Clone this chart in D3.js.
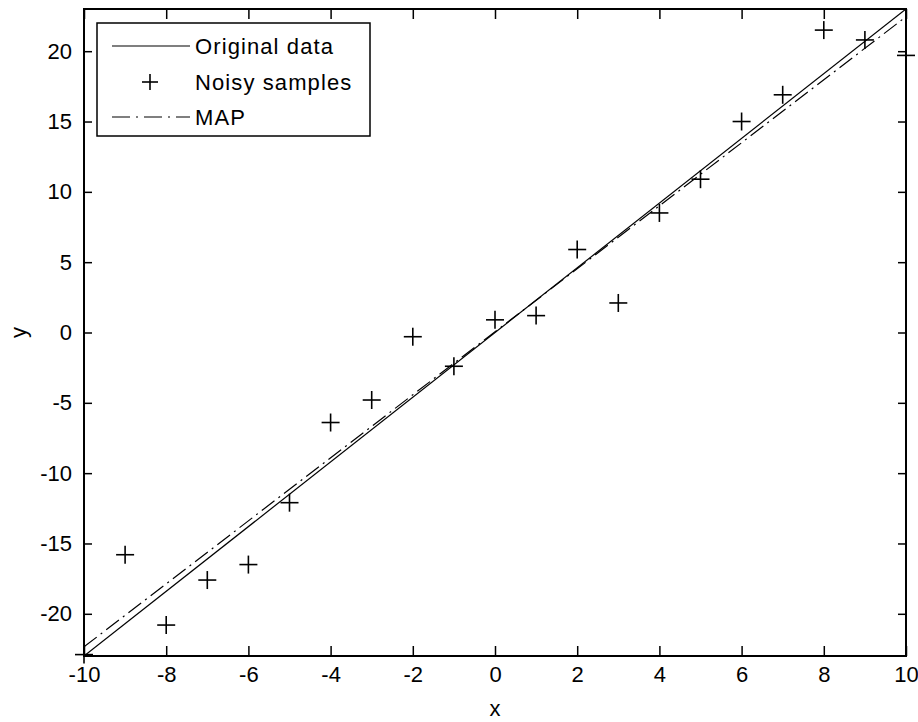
<!DOCTYPE html>
<html>
<head>
<meta charset="utf-8">
<script src="https://cdn.jsdelivr.net/npm/d3@7/dist/d3.min.js"></script>
<style>
  body { margin: 0; background: #fff; }
  svg text { font-family: "Liberation Sans", Arial, sans-serif; fill: #000; }
</style>
</head>
<body>
<div id="chart"></div>
<script>
// dati
const sampleX = [-10, -9, -8, -7, -6, -5, -4, -3, -2, -1, 0, 1, 2, 3, 4, 5, 6, 7, 8, 9, 10];
const sampleY = [-22.9, -15.8, -20.8, -17.6, -16.5, -12.1, -6.4, -4.8, -0.3, -2.4, 0.9, 1.2, 5.9, 2.1, 8.5, 10.9, 15.0, 16.9, 21.5, 20.8, 19.7];
const lineX = [-10, 10];
const originalY = [-23, 23];
const mapY = [-22.35, 22.45];
const xTicks = [-10, -8, -6, -4, -2, 0, 2, 4, 6, 8, 10];
const yTicks = [-20, -15, -10, -5, 0, 5, 10, 15, 20];
const legendLabels = ['Original data', 'Noisy samples', 'MAP'];

const width = 918, height = 722;
const margin = { top: 9, right: 12, bottom: 66, left: 84 };
const innerWidth = width - margin.left - margin.right;
const innerHeight = height - margin.top - margin.bottom;

const svg = d3.select('#chart').append('svg')
    .attr('width', width).attr('height', height);

const g = svg.append('g').attr('transform', `translate(${margin.left},${margin.top})`);

const xScale = d3.scaleLinear().domain([-10, 10]).range([0, innerWidth]);
const yScale = d3.scaleLinear().domain([-23, 23]).range([innerHeight, 0]);

// clip per le linee
g.append('clipPath').attr('id', 'clip')
    .append('rect').attr('width', innerWidth).attr('height', innerHeight);

// formato con trattino semplice come matlab
const fmt = d => String(d);

// assi con tacche interne (stile matlab)
function styleAxis(sel) {
    sel.select('.domain').remove();
    sel.selectAll('.tick line').attr('stroke', '#000').attr('stroke-width', 1.5);
    sel.selectAll('.tick text').attr('font-size', 22).attr('fill', '#000');
}

g.append('g').attr('transform', `translate(0,${innerHeight})`)
    .call(d3.axisBottom(xScale).tickValues(xTicks).tickSize(-10).tickPadding(10).tickFormat(fmt))
    .call(styleAxis);
g.append('g')
    .call(d3.axisTop(xScale).tickValues(xTicks).tickSize(-10).tickFormat(''))
    .call(styleAxis);
g.append('g')
    .call(d3.axisLeft(yScale).tickValues(yTicks).tickSize(-8).tickPadding(12).tickFormat(fmt))
    .call(styleAxis);
g.append('g').attr('transform', `translate(${innerWidth},0)`)
    .call(d3.axisRight(yScale).tickValues(yTicks).tickSize(-8).tickFormat(''))
    .call(styleAxis);

g.append('rect')
    .attr('width', innerWidth).attr('height', innerHeight)
    .attr('fill', 'none').attr('stroke', '#000').attr('stroke-width', 2);

// linee
const line = d3.line().x(d => xScale(d[0])).y(d => yScale(d[1]));
const lines = g.append('g').attr('clip-path', 'url(#clip)');
lines.append('path')
    .datum(lineX.map((x, i) => [x, originalY[i]]))
    .attr('d', line).attr('fill', 'none').attr('stroke', '#000').attr('stroke-width', 1.2);
lines.append('path')
    .datum(lineX.map((x, i) => [x, mapY[i]]))
    .attr('d', line).attr('fill', 'none').attr('stroke', '#000').attr('stroke-width', 1.2)
    .attr('stroke-dasharray', '16,5,2,5');

// marker +
function plus(sel, r) {
    sel.append('line').attr('x1', -r).attr('x2', r).attr('y1', 0).attr('y2', 0);
    sel.append('line').attr('x1', 0).attr('x2', 0).attr('y1', -r).attr('y2', r);
}
g.append('g').selectAll('g')
    .data(sampleX.map((x, i) => [x, sampleY[i]]))
    .join('g')
    .attr('transform', d => `translate(${xScale(d[0])},${yScale(d[1])})`)
    .attr('stroke', '#000').attr('stroke-width', 1.6)
    .each(function() { plus(d3.select(this), 9); });

// etichette assi
svg.append('text')
    .attr('x', margin.left + innerWidth / 2).attr('y', 716)
    .attr('text-anchor', 'middle').attr('font-size', 22).text('x');
svg.append('text')
    .attr('transform', `translate(26,${margin.top + innerHeight / 2}) rotate(-90)`)
    .attr('text-anchor', 'middle').attr('font-size', 22).text('y');

// legenda
const legend = svg.append('g').attr('transform', 'translate(97,23)');
legend.append('rect').attr('width', 273).attr('height', 113)
    .attr('fill', '#fff').attr('stroke', '#000').attr('stroke-width', 1.5);
const rowY = [23, 59, 94];
legend.append('line').attr('x1', 15).attr('x2', 93).attr('y1', rowY[0]).attr('y2', rowY[0])
    .attr('stroke', '#000').attr('stroke-width', 1.2);
legend.append('g').attr('transform', `translate(53,${rowY[1]})`)
    .attr('stroke', '#000').attr('stroke-width', 1.6)
    .call(s => plus(s, 8));
legend.append('line').attr('x1', 15).attr('x2', 93).attr('y1', rowY[2]).attr('y2', rowY[2])
    .attr('stroke', '#000').attr('stroke-width', 1.2).attr('stroke-dasharray', '18,6,2,6');
legend.selectAll('text.lbl').data(legendLabels).join('text')
    .attr('class', 'lbl')
    .attr('x', 98).attr('y', (d, i) => rowY[i]).attr('dy', '0.36em')
    .attr('font-size', 22).attr('letter-spacing', 1.1).text(d => d);
</script>
</body>
</html>
